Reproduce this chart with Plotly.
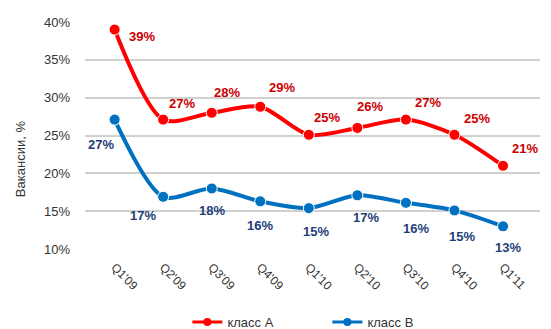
import plotly.graph_objects as go

categories = ["Q1'09", "Q2'09", "Q3'09", "Q4'09", "Q1'10", "Q2'10", "Q3'10", "Q4'10", "Q1'11"]
class_a = [39.0, 27.1, 28.0, 28.8, 25.1, 26.0, 27.1, 25.1, 21.0]
class_b = [27.1, 16.9, 18.0, 16.3, 15.4, 17.1, 16.1, 15.1, 13.0]
labels_a = ["39%", "27%", "28%", "29%", "25%", "26%", "27%", "25%", "21%"]
labels_b = ["27%", "17%", "18%", "16%", "15%", "17%", "16%", "15%", "13%"]
y_ticks = [10, 15, 20, 25, 30, 35, 40]

# label offsets (pixels) - style only
off_a = [(27, -7), (19, 16), (15, 20), (22, 19), (18, 17), (13, 21), (22, 17), (23, 16), (22, 17)]
off_b = [(-14, -25), (-20, -19), (0, -22), (0, -24), (7, -23), (9, -22), (10, -26), (8, -26), (5, -21)]

RED = "#FF0000"
BLUE = "#0070C0"
RED_LBL = "#CC0000"
BLUE_LBL = "#1F3E78"
FONT = "Arial, Liberation Sans, sans-serif"

fig = go.Figure()
for name, vals, col in (("класс A", class_a, RED), ("класс B", class_b, BLUE)):
    fig.add_trace(go.Scatter(
        x=categories, y=vals, name=name, mode="lines+markers", legendgroup=name,
        showlegend=False,
        line=dict(color=col, width=4, shape="spline", smoothing=0.8),
        marker=dict(color=col, size=11, line=dict(color="white", width=1)),
        cliponaxis=False,
    ))
    # legend-only entry with thinner styling
    fig.add_trace(go.Scatter(
        x=[None], y=[None], name=name, mode="lines+markers", legendgroup=name,
        line=dict(color=col, width=3), marker=dict(color=col, size=8),
    ))

annotations = []
for cat, v, t, (dx, dy) in zip(categories, class_a, labels_a, off_a):
    annotations.append(dict(x=cat, y=v, text=f"<b>{t}</b>", showarrow=False,
                            xshift=dx, yshift=dy,
                            font=dict(family=FONT, size=13, color=RED_LBL)))
for cat, v, t, (dx, dy) in zip(categories, class_b, labels_b, off_b):
    annotations.append(dict(x=cat, y=v, text=f"<b>{t}</b>", showarrow=False,
                            xshift=dx, yshift=dy,
                            font=dict(family=FONT, size=13, color=BLUE_LBL)))
annotations.append(dict(xref="paper", yref="paper", x=-0.143, y=0.40, text="Вакансии, %",
                        textangle=-90, showarrow=False, xanchor="center", yanchor="middle",
                        font=dict(family=FONT, size=13, color="#333333")))

fig.update_layout(
    width=551, height=329,
    margin=dict(l=85, r=11, t=22, b=80, autoexpand=False),
    paper_bgcolor="white", plot_bgcolor="white",
    font=dict(family=FONT, size=13, color="#333333"),
    showlegend=True,
    legend=dict(orientation="h", x=0.225, xanchor="left", y=-0.322, yanchor="middle",
                entrywidth=95,
                font=dict(family=FONT, size=13, color="#333333")),
    annotations=annotations,
)
fig.update_xaxes(
    type="category", tickangle=45, showgrid=False, showline=False, zeroline=False,
    ticks="", automargin=False, ticklabelstandoff=8,
    tickfont=dict(family=FONT, size=12, color="#333333"),
)
fig.update_yaxes(
    range=[10, 40], tickvals=y_ticks, ticktext=[f"{v}%" for v in y_ticks],
    showgrid=True, gridcolor="#D0D0D0", gridwidth=1.5, zeroline=False, showline=False,
    ticks="", automargin=False, ticklabelstandoff=14,
    tickfont=dict(family=FONT, size=13, color="#333333"),
)
fig.write_html("out.html")
